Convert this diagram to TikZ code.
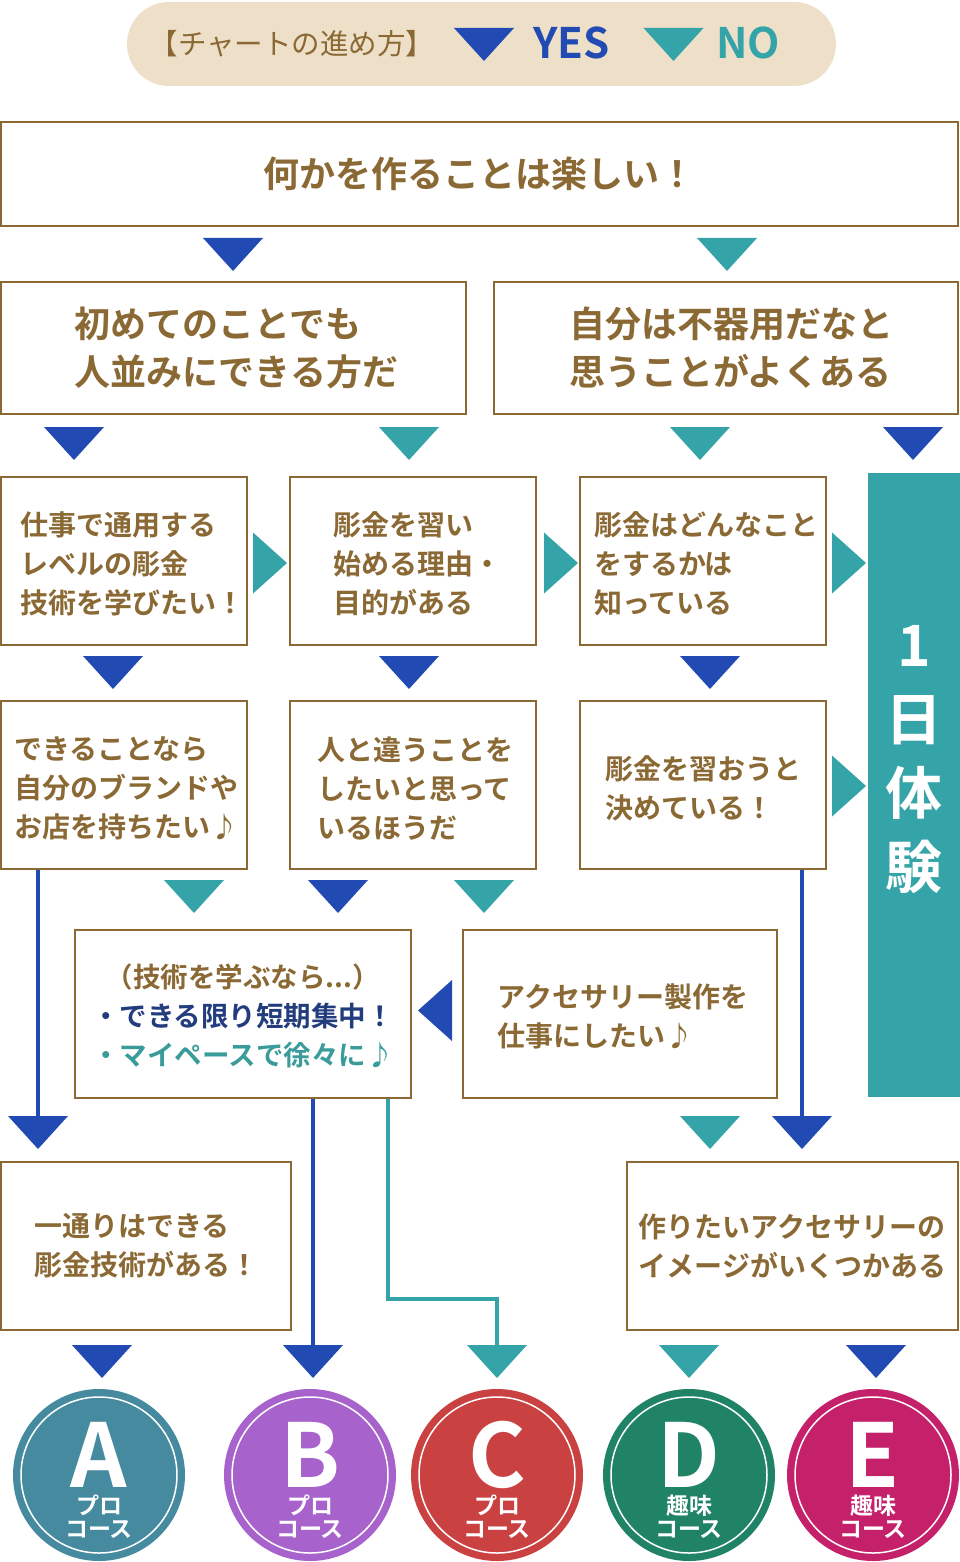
\documentclass[tikz,border=0pt]{standalone}
\usepackage{fontspec}
\setmainfont{Noto Sans CJK JP}[BoldFont={Noto Sans CJK JP Bold}]
\definecolor{brn}{HTML}{8B6934}
\definecolor{legbg}{HTML}{EDDFC8}
\definecolor{yesc}{HTML}{214AB2}
\definecolor{noc}{HTML}{35A4A8}
\definecolor{navy}{HTML}{233C7E}
\definecolor{tealtx}{HTML}{3A9C9A}
\definecolor{cA}{HTML}{468AA0}
\definecolor{cB}{HTML}{A763CB}
\definecolor{cC}{HTML}{C94141}
\definecolor{cD}{HTML}{218366}
\definecolor{cE}{HTML}{C4216A}
\newcommand\dtri[2]{\fill[#1] (#2) ++(-30,0) -- ++(60,0) -- ++(-30,33) -- cycle;}
\newcommand\rtri[2]{\fill[#1] (#2) ++(0,-30.5) -- ++(34,30.5) -- ++(-34,30.5) -- cycle;}
\newcommand\ltri[2]{\fill[#1] (#2) ++(0,-30.5) -- ++(-34,30.5) -- ++(34,30.5) -- cycle;}
\begin{document}
\begin{tikzpicture}[x=1pt,y=-1pt,
  qbox/.style={draw=brn, line width=2.4pt, fill=white, inner sep=0pt, text=brn, align=left,
    font=\bfseries\fontsize{28}{39}\selectfont},
  ebox/.style={draw=brn, line width=2.4pt, fill=white, inner sep=0pt},
  qtxt/.style={inner sep=0pt, text=brn, align=left, font=\bfseries\fontsize{28}{39}\selectfont},
  bigq/.style={ebox},
  bigtxt/.style={qtxt, font=\bfseries\fontsize{36}{48}\selectfont},
  yesline/.style={draw=yesc, line width=3.5pt},
  noline/.style={draw=noc, line width=3.5pt},
  course/.style={circle, inner sep=0pt, minimum size=172pt},
  cletter/.style={text=white, font=\bfseries\fontsize{88}{88}\selectfont, anchor=base, inner sep=0pt, text depth=0pt},
  csub/.style={text=white, align=center, font=\bfseries\fontsize{23}{23}\selectfont, inner sep=0pt},
]
\useasboundingbox (0,0) rectangle (960,1562);
% legend
\node[fill=legbg, rounded corners=42pt, minimum width=709pt, minimum height=84pt, inner sep=0pt] (leg) at (481.5,44) {};
\node[text=brn, font=\fontsize{28.5}{28.5}\selectfont, inner sep=0pt] (legt) at (292,44) {【チャートの進め方】};
\coordinate (ly) at (484,28);
\dtri{yesc}{ly}
\node[text=yesc, font=\bfseries\fontsize{42}{42}\selectfont, inner sep=0pt, anchor=base west] (yes) at (533,59) {YES};
\coordinate (ln) at (673.5,28);
\dtri{noc}{ln}
\node[text=noc, font=\bfseries\fontsize{42}{42}\selectfont, inner sep=0pt, anchor=base west] (no) at (716,59) {NO};

% title
\node[qbox, align=center, font=\bfseries\fontsize{36}{36}\selectfont, minimum width=957pt, minimum height=104pt] (t) at (479.5,174) {何かを作ることは楽しい！};
\coordinate (t1) at (233,238); \dtri{yesc}{t1}
\coordinate (t2) at (727,238); \dtri{noc}{t2}

% row 2
\node[bigq, minimum width=465pt, minimum height=132pt] (r2a) at (233.5,348) {};
\node[bigq, minimum width=464pt, minimum height=132pt] (r2b) at (726,348) {};
\node[bigtxt] (r2at) at ([xshift=3pt]r2a.center) {初めてのことでも\\人並みにできる方だ};
\node[bigtxt] (r2bt) at ([xshift=5pt]r2b.center) {自分は不器用だなと\\思うことがよくある};
\coordinate (a1) at (74,427) ; \dtri{yesc}{a1}
\coordinate (a2) at (409,427); \dtri{noc}{a2}
\coordinate (a3) at (700,427); \dtri{noc}{a3}
\coordinate (a4) at (913,427); \dtri{yesc}{a4}

% bar
\node[fill=noc, minimum width=92pt, minimum height=624pt, inner sep=0pt, anchor=north west] (bar) at (868,473) {};
\node[text=white, align=center, font=\bfseries\fontsize{57}{74}\selectfont, inner sep=0pt] (bart) at (914,760) {1\\日\\体\\験};

% row 3
\node[ebox, minimum width=246pt, minimum height=168pt] (r3a) at (124,561) {};
\node[ebox, minimum width=246pt, minimum height=168pt] (r3b) at (413,561) {};
\node[ebox, minimum width=246pt, minimum height=168pt] (r3c) at (703,561) {};
\node[qtxt] (r3at) at ([xshift=8pt,yshift=-3pt]r3a.center) {仕事で通用する\\レベルの彫金\\技術を学びたい！};
\node[qtxt] (r3bt) at ([xshift=4pt,yshift=-3pt]r3b.center) {彫金を習い\\始める理由・\\目的がある};
\node[qtxt] (r3ct) at ([xshift=3pt,yshift=-3pt]r3c.center) {彫金はどんなこと\\をするかは\\知っている};
\rtri{noc}{253,563}
\rtri{noc}{544,563}
\rtri{noc}{832,563}
\coordinate (b1) at (113,656); \dtri{yesc}{b1}
\coordinate (b2) at (409,656); \dtri{yesc}{b2}
\coordinate (b3) at (710,656); \dtri{yesc}{b3}

% row 4
\node[ebox, minimum width=246pt, minimum height=168pt] (r4a) at (124,785) {};
\node[ebox, minimum width=246pt, minimum height=168pt] (r4b) at (413,785) {};
\node[ebox, minimum width=246pt, minimum height=168pt] (r4c) at (703,785) {};
\node[qtxt] (r4at) at ([xshift=2pt,yshift=-3pt]r4a.center) {できることなら\\自分のブランドや\\お店を持ちたい♪};
\node[qtxt] (r4bt) at ([xshift=2pt,yshift=-3pt]r4b.center) {人と違うことを\\したいと思って\\いるほうだ};
\node[qtxt] (r4ct) at ([yshift=-3pt]r4c.center) {彫金を習おうと\\決めている！};
\rtri{noc}{832,786}
\coordinate (c1) at (194,880); \dtri{noc}{c1}
\coordinate (c2) at (338,880); \dtri{yesc}{c2}
\coordinate (c3) at (484,880); \dtri{noc}{c3}

% row 5
\node[ebox, minimum width=336pt, minimum height=168pt] (r5a) at (243,1014) {};
\node[ebox, minimum width=314pt, minimum height=168pt] (r5b) at (620,1014) {};
\node[qtxt, align=center, font=\bfseries\fontsize{27.5}{39}\selectfont] (r5at) at ([yshift=-2pt]r5a.center)
  {（技術を学ぶなら...）\\\textcolor{navy}{・できる限り短期集中！}\\\textcolor{tealtx}{・マイペースで徐々に♪}};
\node[qtxt] (r5bt) at ([xshift=3pt,yshift=-2pt]r5b.center) {アクセサリー製作を\\仕事にしたい♪};
\ltri{yesc}{452,1010.5}

% connectors to row 6 / courses
\coordinate (d1) at (38,1116);
\draw[yesline] (r4a.south -| d1) -- (d1);
\dtri{yesc}{d1}
\coordinate (d2) at (710,1116); \dtri{noc}{d2}
\coordinate (d3) at (802,1116);
\draw[yesline] (r4c.south -| d3) -- (d3);
\dtri{yesc}{d3}

% row 6
\node[qbox, minimum width=290pt, minimum height=168pt] (r6a) at (146,1246) {一通りはできる\\彫金技術がある！};
\node[qbox, minimum width=331pt, minimum height=168pt] (r6b) at (792.5,1246) {作りたいアクセサリーの\\イメージがいくつかある};

\coordinate (e1) at (102,1345); \dtri{yesc}{e1}
\coordinate (e2) at (313,1345);
\draw[yesline] (r5a.south -| e2) -- (e2);
\dtri{yesc}{e2}
\coordinate (e3) at (497,1345);
\coordinate (ek) at (388,1299);
\draw[noline] (r5a.south -| ek) -- (ek) -| (e3);
\dtri{noc}{e3}
\coordinate (e4) at (689,1345); \dtri{noc}{e4}
\coordinate (e5) at (876,1345); \dtri{yesc}{e5}

% courses
\foreach \n/\x/\col/\L/\s in {A/99/cA/A/プロ, B/310/cB/B/プロ, C/497/cC/C/プロ, D/689/cD/D/趣味, E/873/cE/E/趣味}{
  \node[course, fill=\col] (k\n) at (\x,1475) {};
  \draw[white, line width=1.5pt] (k\n.center) circle (78);
  \node[cletter] (kl\n) at (\x,1487) {\L};
  \node[csub] (ks\n) at (\x,1516.5) {\s\\コース};
}
\end{tikzpicture}
\end{document}
